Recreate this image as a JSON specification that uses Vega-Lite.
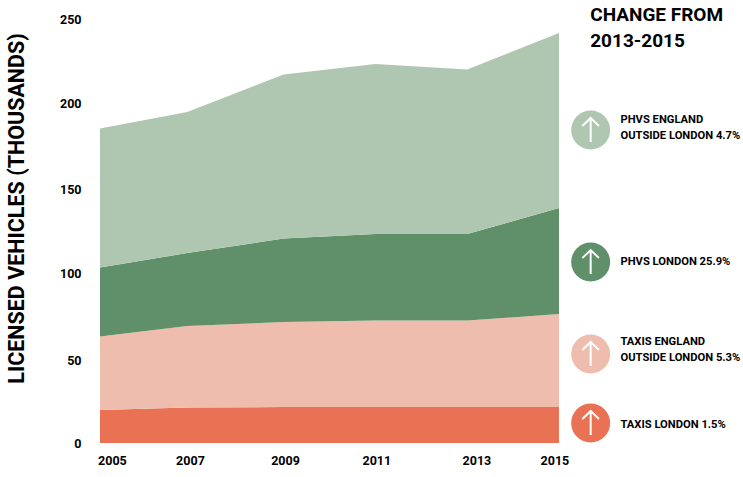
{
"$schema":"https://vega.github.io/schema/vega-lite/v6.json",
"width":459,"height":424,
"autosize":{"type":"none"},
"padding":{"left":100,"top":19,"right":184,"bottom":34},
"background":"white",
"config":{"view":{"stroke":null},"font":"Roboto"},
"datasets":{
"areas":[
{"year":2005,"series":"Taxis London","rank":1,"value":19.5},{"year":2006.9,"series":"Taxis London","rank":1,"value":21},{"year":2009,"series":"Taxis London","rank":1,"value":21.2},{"year":2011,"series":"Taxis London","rank":1,"value":21.2},{"year":2013,"series":"Taxis London","rank":1,"value":21.2},{"year":2015,"series":"Taxis London","rank":1,"value":21.2},
{"year":2005,"series":"Taxis England outside London","rank":2,"value":43.3},{"year":2006.9,"series":"Taxis England outside London","rank":2,"value":48},{"year":2009,"series":"Taxis England outside London","rank":2,"value":50.1},{"year":2011,"series":"Taxis England outside London","rank":2,"value":51},{"year":2013,"series":"Taxis England outside London","rank":2,"value":51},{"year":2015,"series":"Taxis England outside London","rank":2,"value":54.8},
{"year":2005,"series":"PHVs London","rank":3,"value":40.7},{"year":2006.9,"series":"PHVs London","rank":3,"value":43},{"year":2009,"series":"PHVs London","rank":3,"value":49.3},{"year":2011,"series":"PHVs London","rank":3,"value":51},{"year":2013,"series":"PHVs London","rank":3,"value":51},{"year":2015,"series":"PHVs London","rank":3,"value":62.6},
{"year":2005,"series":"PHVs England outside London","rank":4,"value":81.9},{"year":2006.9,"series":"PHVs England outside London","rank":4,"value":83.2},{"year":2009,"series":"PHVs England outside London","rank":4,"value":96.7},{"year":2011,"series":"PHVs England outside London","rank":4,"value":100.3},{"year":2013,"series":"PHVs England outside London","rank":4,"value":97},{"year":2015,"series":"PHVs England outside London","rank":4,"value":103.1}
],
"badges":[
{"series":"PHVs England outside London","x":2015.69,"y":184.6},
{"series":"PHVs London","x":2015.69,"y":106.7},
{"series":"Taxis England outside London","x":2015.69,"y":52.5},
{"series":"Taxis London","x":2015.69,"y":11.8}
],
"labels":[
{"x":2016.34,"y":190.3,"text":"PHVS ENGLAND"},
{"x":2016.34,"y":180.8,"text":"OUTSIDE LONDON 4.7%"},
{"x":2016.34,"y":106.7,"text":"PHVS LONDON 25.9%"},
{"x":2016.34,"y":59.7,"text":"TAXIS ENGLAND"},
{"x":2016.34,"y":50.2,"text":"OUTSIDE LONDON 5.3%"},
{"x":2016.34,"y":10.6,"text":"TAXIS  LONDON 1.5%"}
],
"heading":[
{"x":2015.68,"y":252.4,"text":"CHANGE FROM"},
{"x":2015.68,"y":237,"text":"2013-2015"}
]
},
"layer":[
{"data":{"name":"areas"},
"mark":{"type":"area","clip":false},
"encoding":{
"x":{"field":"year","type":"quantitative","scale":{"domain":[2005,2015],"nice":false,"zero":false},
"axis":{"title":null,"values":[2005.26,2006.96,2009.03,2011.02,2013.2,2014.9],"labelExpr":"round((datum.value-1)/2)*2+1","domain":false,"ticks":false,"grid":false,"labelFontSize":12.5,"labelFontWeight":"bold","labelColor":"#000000","labelPadding":17,"labelFlush":false,"labelOverlap":false,"labelBaseline":"middle"}},
"y":{"field":"value","type":"quantitative","stack":"zero","scale":{"domain":[0,250],"nice":false},
"axis":{"title":"LICENSED VEHICLES (THOUSANDS)","values":[0,48.5,100,149.5,200,250],"labelExpr":"round(datum.value/50)*50","domain":false,"ticks":false,"grid":false,"labelFontSize":12.5,"labelFontWeight":"bold","labelColor":"#000000","labelPadding":19,"labelFlush":false,"labelOverlap":false,"titleFontSize":21.5,"titleFontWeight":"bold","titleColor":"#000000","titleX":-72,"titleY":189}},
"color":{"field":"series","type":"nominal","legend":null,"scale":{"domain":["PHVs England outside London","PHVs London","Taxis England outside London","Taxis London"],"range":["#AFC7B0","#5F9069","#EFBDAD","#E97154"]}},
"order":{"field":"rank","type":"quantitative","sort":"ascending"}
}},
{"data":{"name":"badges"},
"mark":{"type":"point","filled":true,"opacity":1,"size":1521},
"encoding":{"x":{"field":"x","type":"quantitative"},"y":{"field":"y","type":"quantitative"},"color":{"field":"series","type":"nominal","legend":null}}},
{"data":{"name":"badges"},
"mark":{"type":"point","filled":false,"opacity":1,"size":576,"stroke":"#ffffff","strokeWidth":2,"shape":"M0,-1 L0,1 M-0.69,-0.33 L0,-1 L0.69,-0.33"},
"encoding":{"x":{"field":"x","type":"quantitative"},"y":{"field":"y","type":"quantitative"}}},
{"data":{"name":"labels"},
"mark":{"type":"text","align":"left","baseline":"middle","fontSize":11.2,"fontWeight":"bold","color":"#000000"},
"encoding":{"x":{"field":"x","type":"quantitative"},"y":{"field":"y","type":"quantitative"},"text":{"field":"text"}}},
{"data":{"name":"heading"},
"mark":{"type":"text","align":"left","baseline":"middle","fontSize":19,"fontWeight":"bold","color":"#000000"},
"encoding":{"x":{"field":"x","type":"quantitative"},"y":{"field":"y","type":"quantitative"},"text":{"field":"text"}}}
]
}
